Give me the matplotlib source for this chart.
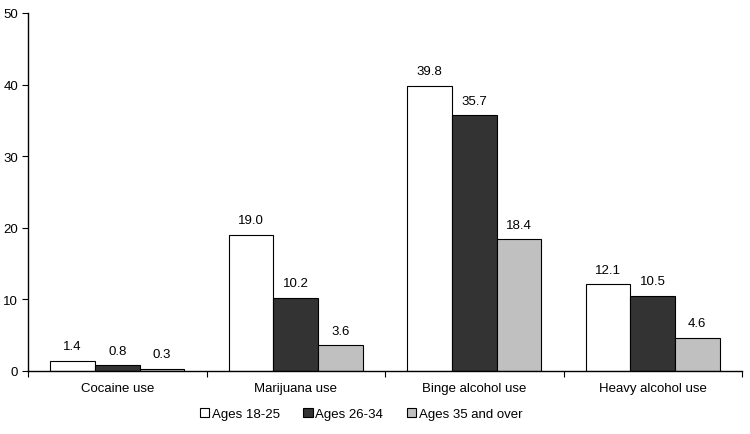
import matplotlib
matplotlib.use("Agg")
import matplotlib.pyplot as plt
import numpy as np

plt.rcParams['font.family'] = ['Liberation Sans', 'DejaVu Sans']

categories = ["Cocaine use", "Marijuana use", "Binge alcohol use", "Heavy alcohol use"]
series_names = ["Ages 18-25", "Ages 26-34", "Ages 35 and over"]
ages_18_25 = [1.4, 19.0, 39.8, 12.1]
ages_26_34 = [0.8, 10.2, 35.7, 10.5]
ages_35_over = [0.3, 3.6, 18.4, 4.6]
y_ticks = [0, 10, 20, 30, 40, 50]

colors = ["#ffffff", "#333333", "#c0c0c0"]
series = [ages_18_25, ages_26_34, ages_35_over]

fs = 9.5
fig = plt.figure(figsize=(7.5, 4.35), dpi=100)
ax = fig.add_axes([28/750, 63/435, 714/750, 358/435])

x = np.arange(len(categories))
w = 0.25
for i, (vals, c, name) in enumerate(zip(series, colors, series_names)):
    pos = x + (i - 1) * w
    ax.bar(pos, vals, width=w, color=c, edgecolor="black", linewidth=0.8, label=name)
    for p, v in zip(pos, vals):
        ax.text(p, v + 1.2, f"{v:.1f}", ha="center", va="bottom", fontsize=fs)

ax.set_xlim(-0.5, len(categories) - 0.5)
ax.set_ylim(0, 50)
ax.set_yticks(y_ticks)
ax.set_yticklabels([str(t) for t in y_ticks], fontsize=fs)
ax.set_xticks(np.arange(-0.5, len(categories), 1.0))
ax.set_xticklabels([])
ax.set_xticks(x, minor=True)
ax.set_xticklabels(categories, minor=True, fontsize=fs)
ax.tick_params(axis="x", which="minor", length=0, pad=8)
ax.tick_params(axis="x", which="major", length=4, direction="out", width=0.8)
ax.tick_params(axis="y", length=4, direction="out", width=0.8, pad=3)
for s in ["top", "right"]:
    ax.spines[s].set_visible(False)
for s in ["left", "bottom"]:
    ax.spines[s].set_linewidth(1.0)

leg = fig.legend(loc="center", bbox_to_anchor=(361/750, 1 - 415/435), ncol=3, frameon=False,
                 fontsize=fs, handlelength=0.7, handleheight=0.7, handletextpad=0.2, columnspacing=1.8)

fig.savefig("out.png", dpi=100)
